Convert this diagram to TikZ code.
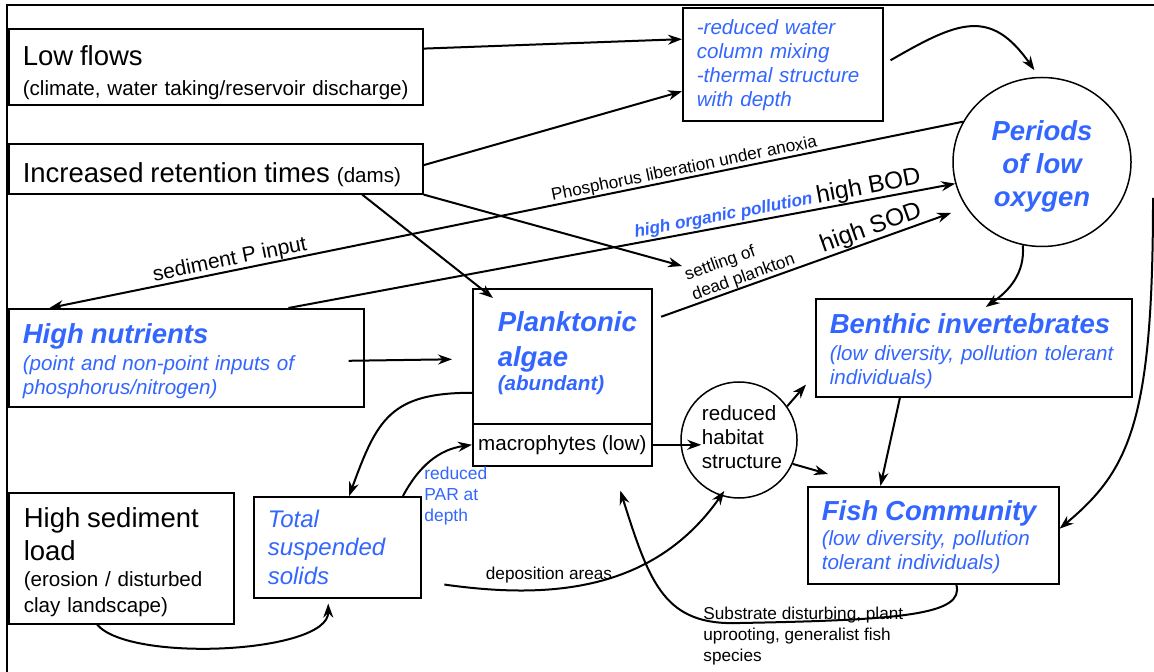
\documentclass[tikz,border=0pt]{standalone}
\usepackage{fontspec}
\setmainfont{Liberation Sans}
\usetikzlibrary{arrows.meta}
\usetikzlibrary{shapes.geometric}
\definecolor{hlblue}{RGB}{51,102,255}
\colorlet{hlcolor}{hlblue}
\newcommand\bigtxt{\fontsize{13.75pt}{16.5pt}\selectfont}
\newcommand\midtxt{\fontsize{10.3pt}{12pt}\selectfont}
\newcommand\smalltxt{\fontsize{8.6pt}{10.5pt}\selectfont}
\newcommand\odtxt{\fontsize{12.2pt}{14pt}\selectfont}
\tikzset{
	box/.style={draw,line width=0.8pt,anchor=north west,align=left,inner xsep=7pt,inner ysep=0pt,font=\midtxt},
	hl/.style={text=hlcolor,font=\midtxt\itshape},
	bubble/.style={draw,line width=0.75pt,inner sep=0pt},
	link/.style={line width=1pt,->},
	lbl/.style={sloped,above,inner sep=0pt,font=\smalltxt},
	>={Stealth[length=7pt,width=5pt]},
	}

\begin{document}
\begin{tikzpicture}[x=0.5pt,y=-0.5pt]
\useasboundingbox (0,0) rectangle (1154,672);
\draw[line width=1.3pt] (7,672) -- (7,5) -- (1154,5);

\node[box,minimum width=207pt,text width=193pt,minimum height=38pt,text height=16.2pt] (low) at (8,28) {{\bigtxt Low flows}\\[3pt](climate, water taking/reservoir discharge)};
\node[box,minimum width=207pt,text width=193pt,minimum height=25pt,text height=16pt] (ret) at (8,143) {{\bigtxt Increased retention times} (dams)};
\node[box,hl,minimum width=100pt,text width=86pt,minimum height=56.5pt,text height=8pt] (mix) at (682,7) {-reduced water\\column mixing\\-thermal structure\\with depth};
\node[ellipse,bubble,minimum width=89pt,minimum height=84.5pt,align=center,text=hlcolor,font=\bigtxt\bfseries\itshape] (oxy) at (1042,162) {\rule{0pt}{14pt}Periods\\of low\\oxygen};
\node[box,hl,minimum width=177.5pt,text width=163.5pt,minimum height=49pt,text height=13.35pt] (nutr) at (8,308) {{\bigtxt\bfseries High nutrients}\\[1.5pt](point and non-point inputs of\\phosphorus/nitrogen)};
\node[box,hl,font=\midtxt\bfseries\itshape,inner xsep=12.5pt,minimum width=89.5pt,text width=64.5pt,minimum height=67.5pt,text height=7.2pt] (algae) at (472,288) {{\bigtxt Planktonic}\\[5.5pt]{\bigtxt algae}\\(abundant)};
\node[box,minimum width=89.5pt,minimum height=21pt,inner xsep=0pt] (macro) at (472,423) {macrophytes (low)};
\node[box,hl,minimum width=158pt,text width=144pt,minimum height=49pt,text height=13.4pt] (benth) at (815,298) {{\bigtxt\bfseries Benthic invertebrates}\\[1.5pt](low diversity, pollution tolerant\\individuals)};
\node[box,hl,minimum width=125.5pt,text width=111.5pt,minimum height=48.5pt,text height=12.2pt] (fish) at (807,486) {{\bigtxt\bfseries Fish Community}\\[0.5pt](low diversity, pollution\\tolerant individuals)};
\node[circle,bubble,minimum size=58pt,align=left,font=\midtxt] (hab) at (739,440) {\hspace*{3pt}reduced\\\hspace*{3pt}habitat\\\hspace*{3pt}structure\rule[-3pt]{0pt}{3pt}};
\node[box,minimum width=112.5pt,text width=97.5pt,minimum height=65.5pt,text height=14.2pt] (sed) at (8,492) {{\bigtxt High sediment}\\[2.6pt]{\bigtxt load}\\[1pt](erosion / disturbed\\[1pt]clay landscape)};
\node[box,hl,font=\fontsize{12pt}{14.25pt}\selectfont\itshape,minimum width=83.5pt,text width=69.5pt,minimum height=50.5pt] (tss) at (253,496) {Total\\suspended\\solids};

\node[font=\fontsize{8.7pt}{10.5pt}\selectfont,text=hlcolor,align=left,anchor=north west,inner sep=0pt] (par) at (424,466) {reduced\\PAR at\\depth};
\node[font=\smalltxt,inner sep=0pt] (depo) at (549,575) {deposition areas};
\node[font=\smalltxt,align=left,anchor=north west,inner sep=0pt] (subst) at (703,606.5) {Substrate disturbing, plant\\uprooting, generalist fish\\species};
\coordinate (settletip) at (682,266);
\coordinate (rim) at (1153,198);

\draw[link] (low.5) -- (mix.166);
\draw[link] (ret.1) -- (mix.195);
\draw[link,shorten <=4pt,shorten >=4pt] (mix.east) to[out=30,in=125,looseness=1.4] (oxy.92);
\draw[link,<-] (nutr.160) -- node[lbl,pos=0.2,font=\fontsize{10.5pt}{12pt}\selectfont]{sediment P input} node[lbl,pos=0.697]{Phosphorus liberation under anoxia} (oxy.153);
\draw[link] (nutr.26) -- node[lbl,pos=0.737]{{\color{hlcolor}\bfseries\itshape high organic pollution} {\odtxt high BOD}} (oxy.194);
\draw[link,shorten <=4.5pt,shorten >=8pt] (algae.22) -- node[lbl,pos=0.3,align=left] (settle) {settling of\\dead plankton} node[lbl,pos=0.71]{\odtxt high SOD} (oxy.211);
\draw[link] (ret.south east) -- (settletip);
\draw[link] (ret.-10) -- ([shift={(10.5pt,-5pt)}]algae.north west);
\draw[link] ([shift={(-8pt,-1.5pt)}]nutr.east) -- ([shift={(-10pt,-1.5pt)}]algae.west);
\draw[link] (algae.202) to[out=180,in=70,looseness=1.3] (tss.77);
\draw[link] (tss.38) to[out=62,in=188] (macro.west);
\draw[link,shorten >=-10.5pt] (macro.east) -- (macro.east -| hab.west);
\draw[link] (hab.35) -- ([shift={(-4.5pt,6.5pt)}]benth.south west);
\draw[link] (hab.-24) -- ([shift={(10.5pt,6pt)}]fish.north west);
\draw[link] (benth.214) -- (fish.137);
\draw[link] (oxy.257) to[out=-85,in=35] ([shift={(6pt,-4.5pt)}]benth.north);
\draw[link] (rim) .. controls (1153,420) and (1130,470) .. (fish.3);
\draw[link] (sed.-110) to[out=-50,in=-90,looseness=0.55] ([yshift=-2.5pt]tss.260);
\draw[link,shorten <=11.5pt,shorten >=-3pt] (tss.-22) to[out=-8,in=-125] (hab.-108);
\draw[link] (fish.-65) .. controls (965,615) and (900,620) .. (740,623) .. controls (665,626) and (650,585) .. ([shift={(29pt,-12pt)}]macro.south);
\end{tikzpicture}
\end{document}
